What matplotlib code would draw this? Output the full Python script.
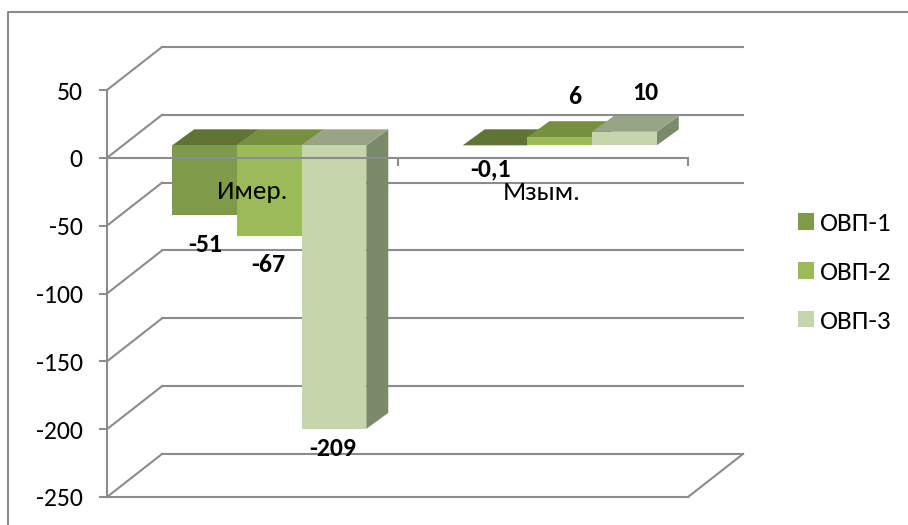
import matplotlib
matplotlib.use('Agg')
import matplotlib.pyplot as plt
from matplotlib.patches import Polygon, Rectangle
from matplotlib.lines import Line2D
from matplotlib.transforms import Affine2D

categories = ['Имер.', 'Мзым.']
series_names = ['ОВП-1', 'ОВП-2', 'ОВП-3']
ovp1 = [-51, -0.1]
ovp2 = [-67, 6]
ovp3 = [-209, 10]
bar_labels = [['-51', '-0,1'], ['-67', '6'], ['-209', '10']]
y_ticks = [50, 0, -50, -100, -150, -200, -250]

front_colors = ['#7F9A48', '#9BBB59', '#C6D6AC']
top_colors = ['#5F7435', '#76903F', '#98A585']
side_color = '#7B8A6B'
grid_color = '#8C8C8C'

W, H = 908, 525
plt.rcParams['font.family'] = ['Carlito', 'Lato', 'Open Sans', 'DejaVu Sans']
plt.rcParams['axes.unicode_minus'] = False

fig = plt.figure(figsize=(W / 100, H / 100), dpi=100)
# plot area in pixels: x 107-688, y 90-497
ax = fig.add_axes([107 / W, 1 - 497 / H, 581 / W, 407 / H])
ax.set_xlim(0, 2)
ax.set_ylim(-250, 50)
ax.patch.set_visible(False)


def shifted(dx, dy):
    return ax.transData + Affine2D().translate(dx, dy)


# walls: grid lines on the back and diagonals on the left side
back = shifted(55, 43)
for v in y_ticks:
    ax.plot([0, 2], [v, v], color=grid_color, lw=1.5, transform=back, zorder=1, clip_on=False)
    px0 = ax.transData.transform((0, v))
    ax.plot([px0[0], px0[0] + 55], [px0[1], px0[1] + 43], color=grid_color, lw=1.5,
            transform=None, zorder=1, clip_on=False)
# floor
ax.plot([0, 2], [-250, -250], color=grid_color, lw=1.5, zorder=1, clip_on=False)
p = ax.transData.transform((2, -250))
ax.plot([p[0], p[0] + 55], [p[1], p[1] + 43], color=grid_color, lw=1.5, transform=None,
        zorder=1, clip_on=False)

# bars
bar_w = 0.2227
dep_x, dep_y = 22, 16
base = shifted(17, 12.5)
top_tr = shifted(17 + dep_x, 12.5 + dep_y)
for j, vals in enumerate([ovp1, ovp2, ovp3]):
    for i, v in enumerate(vals):
        x0 = i + 0.5 + (j - 1.5) * bar_w
        x1 = x0 + bar_w
        hi = max(v, 0)
        lo = min(v, 0)
        z = 2 + j * 0.1
        # side face
        a = base.transform([(x1, hi), (x1, lo)])
        b = top_tr.transform([(x1, lo), (x1, hi)])
        ax.add_patch(Polygon([a[0], a[1], b[0], b[1]], closed=True, fc=side_color, ec='none',
                             transform=None, zorder=z, clip_on=False))
        # top face
        a = base.transform([(x0, hi), (x1, hi)])
        b = top_tr.transform([(x1, hi), (x0, hi)])
        ax.add_patch(Polygon([a[0], a[1], b[0], b[1]], closed=True, fc=top_colors[j], ec='none',
                             transform=None, zorder=z, clip_on=False))
        ax.bar(x0, v, width=bar_w, align='edge', color=front_colors[j], transform=base,
               zorder=z + 0.05, clip_on=False)

# axes lines on top of the bars
for s in ['top', 'right']:
    ax.spines[s].set_visible(False)
ax.spines['bottom'].set_position(('data', 0))
for s in ['left', 'bottom']:
    ax.spines[s].set_color(grid_color)
    ax.spines[s].set_linewidth(1.5)
    ax.spines[s].set_zorder(4)
ax.set_xticks([0, 1, 2])
ax.set_xticklabels([])
ax.set_yticks(y_ticks)
ax.tick_params(axis='both', color=grid_color, width=1.5, length=5.5)
ax.tick_params(axis='y', labelsize=18.5, pad=12)

# labels were placed by hand in the source chart
label_pos = [[(205, 245), (491, 169)], [(268, 265), (575, 96)], [(333, 448), (645, 93)]]
for j in range(3):
    for i in range(2):
        px, py = label_pos[j][i]
        fig.text(px / W, 1 - py / H, bar_labels[j][i], fontsize=18.5, fontweight='bold',
                 ha='center', va='center', zorder=6)
for name, px, py in [(categories[0], 252, 192), (categories[1], 542, 193)]:
    fig.text(px / W, 1 - py / H, name, fontsize=19.5, ha='center', va='center', zorder=6)

handles = [Rectangle((0, 0), 1, 1, fc=c, ec='none') for c in front_colors]
fig.legend(handles, series_names, loc='center left', bbox_to_anchor=(774 / W, 1 - 272.5 / H),
           frameon=False, fontsize=19.5, handlelength=0.57, handleheight=0.57,
           handletextpad=0.2, labelspacing=0.95)

# outer frame: only top and left edges show, the rest is cut by the image
fig.add_artist(Line2D([8 / W, 8 / W, 1], [0, 1 - 12 / H, 1 - 12 / H], color=grid_color, lw=1.5,
                      transform=fig.transFigure))

fig.savefig('out.png', dpi=100)
